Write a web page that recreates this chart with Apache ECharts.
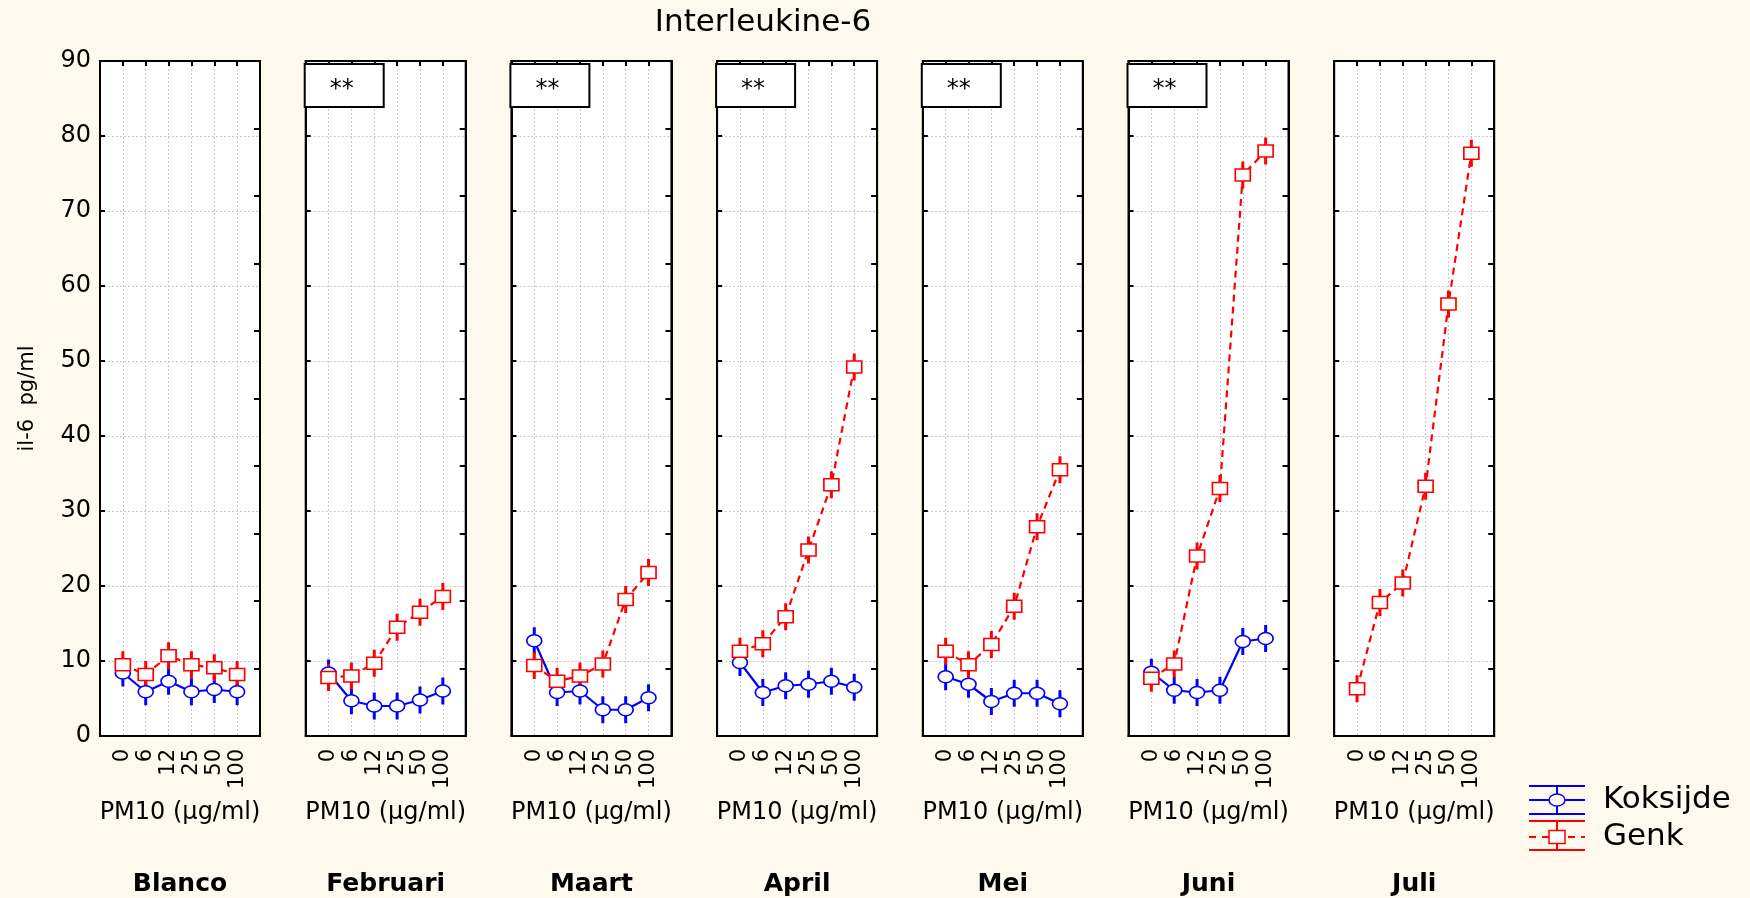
<!DOCTYPE html>
<html>
<head>
<meta charset="utf-8">
<title>Interleukine-6</title>
<script src="https://cdn.jsdelivr.net/npm/echarts@6/dist/echarts.min.js"></script>
<style>
  html, body { margin: 0; padding: 0; background: #FEF9EC; }
  #chart { width: 1750px; height: 898px; }
</style>
</head>
<body>
<div id="chart"></div>
<script>
// PM10 doses (µg/ml) on each panel's x axis
const doses = ['0', '6', '12', '25', '50', '100'];
// one panel per sampling month
const months = ['Blanco', 'Februari', 'Maart', 'April', 'Mei', 'Juni', 'Juli'];
// IL-6 (pg/ml), mean per dose, one row per month
const koksijde = [
  [8.4, 5.9, 7.3, 5.9, 6.2, 5.9],
  [8.4, 4.7, 4.0, 4.0, 4.8, 6.0],
  [12.7, 5.8, 6.0, 3.5, 3.5, 5.1],
  [9.8, 5.8, 6.7, 6.9, 7.3, 6.5],
  [7.9, 6.9, 4.6, 5.7, 5.7, 4.3],
  [8.5, 6.1, 5.8, 6.1, 12.6, 13.0],
  [null, null, null, null, null, null]
];
const genk = [
  [9.5, 8.2, 10.7, 9.5, 9.1, 8.2],
  [7.8, 8.0, 9.7, 14.5, 16.5, 18.6],
  [9.4, 7.3, 8.0, 9.6, 18.2, 21.8],
  [11.3, 12.3, 15.9, 24.8, 33.5, 49.2],
  [11.3, 9.5, 12.2, 17.3, 27.9, 35.5],
  [7.7, 9.6, 24.0, 33.0, 74.8, 78.0],
  [6.3, 17.8, 20.4, 33.3, 57.6, 77.7]
];
// half-length of the error bars (pg/ml)
const errorHalf = 1.8;
// panels flagged with a significance box
const significance = ['', '**', '**', '**', '**', '**', ''];
// y axis range
const yMin = 0, yMax = 90, yStep = 10;

const FONT = 'DejaVu Sans';
const BLUE = '#0000FF';
const RED = '#FF0000';
const GRIDLINE = {
  show: true, showMinLine: false, showMaxLine: false,
  lineStyle: { color: '#c9c9c9', width: 1, type: [2, 2] }
};

const panelLeft0 = 100, panelStep = 205.7, panelWidth = 160, panelTop = 61, panelHeight = 675;

const grids = [], xAxes = [], yAxes = [], series = [], graphics = [];

function errorSeries(i, values, color) {
  return {
    type: 'custom',
    xAxisIndex: 2 * i, yAxisIndex: 2 * i,
    z: 2,
    silent: true,
    encode: { x: 0, y: 1 },
    data: values.map((v, k) => [k, v]).filter(d => d[1] != null),
    renderItem(params, api) {
      const x = api.value(0), v = api.value(1);
      const a = api.coord([x, v + errorHalf]);
      const b = api.coord([x, v - errorHalf]);
      return {
        type: 'line',
        shape: { x1: a[0], y1: a[1], x2: b[0], y2: b[1] },
        style: { stroke: color, lineWidth: 3 }
      };
    }
  };
}

function meanSeries(i, name, values, color, symbol, dashed, z) {
  return {
    name, type: 'line',
    xAxisIndex: 2 * i, yAxisIndex: 2 * i,
    z,
    data: values.map((v, k) => [k, v == null ? '-' : v]),
    symbol, symbolSize: [15, 12],
    showAllSymbol: true,
    itemStyle: { color: '#fff', borderColor: color, borderWidth: 1.5 },
    lineStyle: { color, width: 2.2, type: dashed ? [7, 5] : 'solid' },
    emphasis: { disabled: true }
  };
}

const frameLine = { show: true, onZero: false, lineStyle: { color: '#000', width: 2 } };
const innerTick = len => ({ show: true, inside: true, length: len, lineStyle: { color: '#000', width: 2 } });

months.forEach((m, i) => {
  const left = panelLeft0 + panelStep * i;
  grids.push({
    left, top: panelTop, width: panelWidth, height: panelHeight,
    show: true, backgroundColor: '#fff', borderColor: '#000', borderWidth: 2
  });
  // bottom: dose axis with labels
  xAxes.push({
    type: 'value', gridIndex: i, position: 'bottom',
    min: -1, max: doses.length, interval: 1,
    axisLine: frameLine,
    axisTick: { show: false },
    axisLabel: {
      rotate: 90, margin: 13, color: '#000', fontFamily: FONT, fontSize: 21,
      formatter: v => (doses[v] !== undefined ? doses[v] : '')
    },
    splitLine: GRIDLINE,
    name: 'PM10 (µg/ml)', nameLocation: 'middle', nameGap: 65,
    nameTextStyle: { color: '#000', fontFamily: FONT, fontSize: 24 }
  });
  // top: tick marks only
  xAxes.push({
    type: 'value', gridIndex: i, position: 'top',
    min: -1, max: doses.length, interval: 1,
    axisLine: frameLine,
    axisTick: innerTick(5),
    axisLabel: { show: false },
    splitLine: { show: false }
  });
  // left: IL-6 axis
  yAxes.push({
    type: 'value', gridIndex: i, position: 'left',
    min: yMin, max: yMax, interval: yStep,
    axisLine: frameLine,
    axisTick: innerTick(5),
    axisLabel: { show: i === 0, margin: 9, color: '#000', fontFamily: FONT, fontSize: 24 },
    splitLine: GRIDLINE,
    name: i === 0 ? 'il-6  pg/ml' : '',
    nameLocation: 'middle', nameGap: 62, nameRotate: 90,
    nameTextStyle: { color: '#000', fontFamily: FONT, fontSize: 21 }
  });
  // right: tick marks only, ten divisions
  yAxes.push({
    type: 'value', gridIndex: i, position: 'right',
    min: 0, max: 100, interval: 10,
    axisLine: frameLine,
    axisTick: innerTick(6),
    axisLabel: { show: false },
    splitLine: { show: false }
  });

  series.push(errorSeries(i, koksijde[i], BLUE));
  series.push(meanSeries(i, 'Koksijde', koksijde[i], BLUE, 'circle', false, 3));
  series.push(errorSeries(i, genk[i], RED));
  series.push(meanSeries(i, 'Genk', genk[i], RED, 'rect', true, 4));

  // month caption under each panel
  graphics.push({
    type: 'text', x: left + panelWidth / 2, y: 884, z: 10,
    style: { text: m, fill: '#000', font: 'bold 25px "' + FONT + '"', textAlign: 'center', textVerticalAlign: 'middle' }
  });
  // significance box
  if (significance[i]) {
    graphics.push({
      type: 'rect', x: left - 1, y: panelTop + 3, z: 10,
      shape: { width: 79, height: 43 },
      style: { fill: '#fff', stroke: '#000', lineWidth: 2 }
    });
    graphics.push({
      type: 'text', x: left + 36, y: panelTop + 29, z: 11,
      style: { text: significance[i], fill: '#000', font: '24px "' + FONT + '"', textAlign: 'center', textVerticalAlign: 'middle' }
    });
  }
});

// chart title
graphics.push({
  type: 'text', x: 763, y: 23, z: 10,
  style: { text: 'Interleukine-6', fill: '#000', font: '31px "' + FONT + '"', textAlign: 'center', textVerticalAlign: 'middle' }
});

// legend: error-bar style keys
function legendKey(y0, y1, y2, color, name, marker) {
  const x0 = 1529, x1 = 1585, xc = 1557;
  const items = [];
  [y0, y1, y2].forEach((y, k) => {
    items.push({
      type: 'line', z: 10,
      shape: { x1: x0, y1: y, x2: x1, y2: y },
      style: { stroke: color, lineWidth: 2, lineDash: (k === 1 && marker === 'rect') ? [7, 6] : null }
    });
  });
  items.push({ type: 'line', z: 10, shape: { x1: xc, y1: y0, x2: xc, y2: y2 }, style: { stroke: color, lineWidth: 2 } });
  if (marker === 'circle') {
    items.push({ type: 'ellipse', z: 11, shape: { cx: xc, cy: y1, rx: 8, ry: 6 }, style: { fill: '#fff', stroke: color, lineWidth: 1.5 } });
  } else {
    items.push({ type: 'rect', z: 11, shape: { x: xc - 8, y: y1 - 6.5, width: 16, height: 13 }, style: { fill: '#fff', stroke: color, lineWidth: 1.5 } });
  }
  items.push({
    type: 'text', x: 1603, y: y1, z: 10,
    style: { text: name, fill: '#000', font: '31px "' + FONT + '"', textAlign: 'left', textVerticalAlign: 'middle' }
  });
  return items;
}
graphics.push(...legendKey(786, 800, 814, BLUE, 'Koksijde', 'circle'));
graphics.push(...legendKey(821, 837, 850, RED, 'Genk', 'rect'));

const chart = echarts.init(document.getElementById('chart'), null, { renderer: 'canvas' });
chart.setOption({
  backgroundColor: '#FEF9EC',
  animation: false,
  grid: grids,
  xAxis: xAxes,
  yAxis: yAxes,
  series,
  graphic: graphics
});
</script>
</body>
</html>
